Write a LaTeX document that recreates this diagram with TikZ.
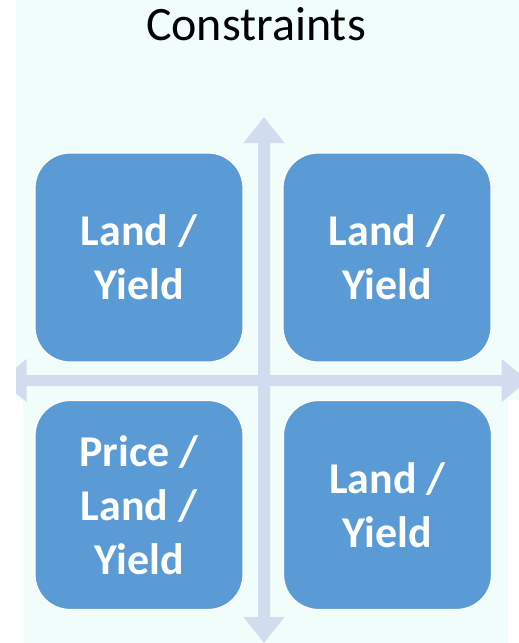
\documentclass[tikz,border=0pt]{standalone}
\usepackage{fontspec}
\setmainfont{Carlito}
\definecolor{mintbg}{HTML}{F0FDFA}
\definecolor{axisblue}{HTML}{D1DDEE}
\definecolor{tileblue}{HTML}{5B9BD5}
\begin{document}
\begin{tikzpicture}[x=1pt,y=-1pt,
  tile/.style={draw=white, line width=1.2pt, fill=tileblue, rounded corners=35pt,
    minimum width=208pt, minimum height=209pt, inner sep=0pt, align=center,
    text=white, font=\fontsize{44}{54}\selectfont\bfseries},
  axis/.style={fill=axisblue, draw=none}]
\useasboundingbox (0,0) rectangle (519,643);
% background panel
\fill[mintbg] (16,0) rectangle (519,400);
\fill[mintbg] (23,400) rectangle (508,643);
% title
\node[anchor=base, font=\fontsize{48}{58}\selectfont, inner sep=0pt] (title) at (256,40.5) {Constraints};
% double-headed axes
\begin{scope}
\clip (16,0) rectangle (519,643);
\fill[axis] (264,117) -- (284.5,143) -- (270,143) -- (270,617) -- (284.5,617) -- (264,643)
  -- (243.5,617) -- (258,617) -- (258,143) -- (243.5,143) -- cycle;
\fill[axis] (0.5,380.5) -- (26.5,359) -- (26.5,375) -- (501.5,375) -- (501.5,359) -- (528,380.5)
  -- (501.5,402) -- (501.5,386) -- (26.5,386) -- (26.5,402) -- cycle;
\end{scope}
% quadrant tiles
\node[tile] (tl) at (139,257.5) {Land /\\Yield};
\node[tile] (tr) at (387,257.5) {Land /\\Yield};
\node[tile] (bl) at (139,505) {Price /\\Land /\\Yield};
\node[tile] (br) at (387.5,505) {Land /\\Yield};
\end{tikzpicture}
\end{document}
